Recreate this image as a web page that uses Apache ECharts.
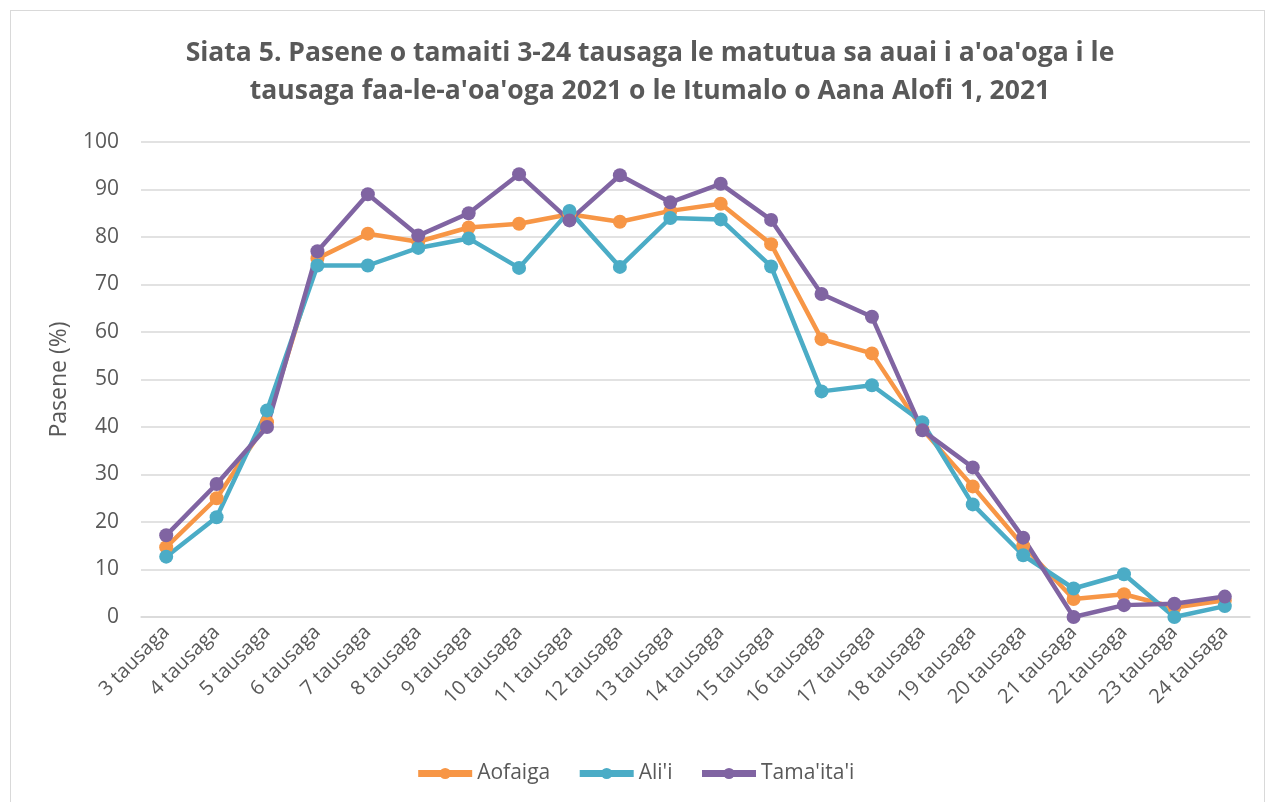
<!DOCTYPE html>
<html lang="sm">
<head>
    <meta charset="UTF-8">
    <title>Siata 5</title>
    <style>
        html, body {
            margin: 0;
            padding: 0;
            background: #ffffff;
        }

        #chart-canvas {
            position: absolute;
            left: 0;
            top: 0;
            width: 1269px;
            height: 802px;
        }

        #frame {
            position: absolute;
            left: 10px;
            top: 10px;
            width: 1255px;
            height: 800px;
            border: 1px solid #d9d9d9;
            box-sizing: border-box;
            pointer-events: none;
        }
    </style>
</head>
<body>
<div id="frame"></div>
<div id="chart-canvas"></div>
<script src="https://cdn.jsdelivr.net/npm/echarts@6/dist/echarts.min.js"></script>
<script type="text/javascript">
    const categories = ["3 tausaga", "4 tausaga", "5 tausaga", "6 tausaga", "7 tausaga", "8 tausaga",
        "9 tausaga", "10 tausaga", "11 tausaga", "12 tausaga", "13 tausaga", "14 tausaga",
        "15 tausaga", "16 tausaga", "17 tausaga", "18 tausaga", "19 tausaga", "20 tausaga",
        "21 tausaga", "22 tausaga", "23 tausaga", "24 tausaga"];

    // Aofaiga (total)
    const aofaiga = [14.7, 25.0, 41.0, 75.5, 80.7, 79.0, 82.0, 82.8, 84.8, 83.2, 85.5,
        87.0, 78.5, 58.5, 55.5, 39.5, 27.5, 15.0, 3.8, 4.8, 2.0, 3.5];
    // Ali'i (boys)
    const alii = [12.7, 21.0, 43.5, 74.0, 74.0, 77.7, 79.7, 73.5, 85.5, 73.7, 84.0,
        83.7, 73.8, 47.5, 48.8, 41.0, 23.7, 13.0, 6.0, 9.0, 0.0, 2.3];
    // Tama'ita'i (girls)
    const tamaitai = [17.2, 28.0, 40.0, 77.0, 89.0, 80.3, 85.0, 93.2, 83.5, 93.0, 87.3,
        91.2, 83.6, 68.0, 63.2, 39.3, 31.5, 16.7, 0.0, 2.5, 2.8, 4.3];

    const seriesNames = ["Aofaiga", "Ali'i", "Tama'ita'i"];
    const colorList = ["#f79646", "#4bacc6", "#8064a2"];
    const textColor = "#595959";
    const fontName = "'Open Sans', 'Liberation Sans', sans-serif";

    function makeSeries(name, data, color) {
        return {
            name: name,
            type: 'line',
            data: data,
            color: color,
            symbol: 'circle',
            symbolSize: 14,
            lineStyle: {width: 4.5, color: color},
            itemStyle: {color: color},
            emphasis: {disabled: true}
        }
    }

    let myChart = echarts.init(document.getElementById('chart-canvas'));
    myChart.setOption({
        animation: false,
        title: {
            text: "Siata 5. Pasene o tamaiti 3-24 tausaga le matutua sa auai i a'oa'oga i le\ntausaga faa-le-a'oa'oga 2021 o le Itumalo o Aana Alofi 1, 2021",
            left: 645,
            textAlign: 'center',
            top: 29,
            textStyle: {
                fontFamily: fontName,
                fontSize: 26.5,
                fontWeight: 'bold',
                color: textColor,
                lineHeight: 38
            }
        },
        legend: {
            data: seriesNames,
            bottom: 13,
            left: 'center',
            itemWidth: 54,
            itemHeight: 14,
            itemGap: 26,
            lineStyle: {width: 7},
            textStyle: {fontFamily: fontName, fontSize: 21, color: textColor}
        },
        grid: {
            left: 141,
            right: 19,
            top: 142,
            bottom: 185,
            containLabel: false
        },
        xAxis: {
            type: 'category',
            data: categories,
            boundaryGap: true,
            axisLine: {show: true, lineStyle: {color: '#d9d9d9', width: 1.5}},
            axisTick: {show: false},
            axisLabel: {
                rotate: 45,
                interval: 0,
                margin: 12,
                fontFamily: fontName,
                fontSize: 20,
                color: textColor
            }
        },
        yAxis: {
            type: 'value',
            min: 0,
            max: 100,
            interval: 10,
            name: 'Pasene (%)',
            nameLocation: 'middle',
            nameGap: 70,
            nameRotate: 90,
            nameTextStyle: {fontFamily: fontName, fontSize: 23, color: textColor},
            axisLine: {show: false},
            axisTick: {show: false},
            axisLabel: {fontFamily: fontName, fontSize: 21, color: textColor, margin: 22},
            splitLine: {lineStyle: {color: '#d9d9d9', width: 1.5}}
        },
        series: [
            makeSeries(seriesNames[0], aofaiga, colorList[0]),
            makeSeries(seriesNames[1], alii, colorList[1]),
            makeSeries(seriesNames[2], tamaitai, colorList[2])
        ]
    });
</script>
</body>
</html>
